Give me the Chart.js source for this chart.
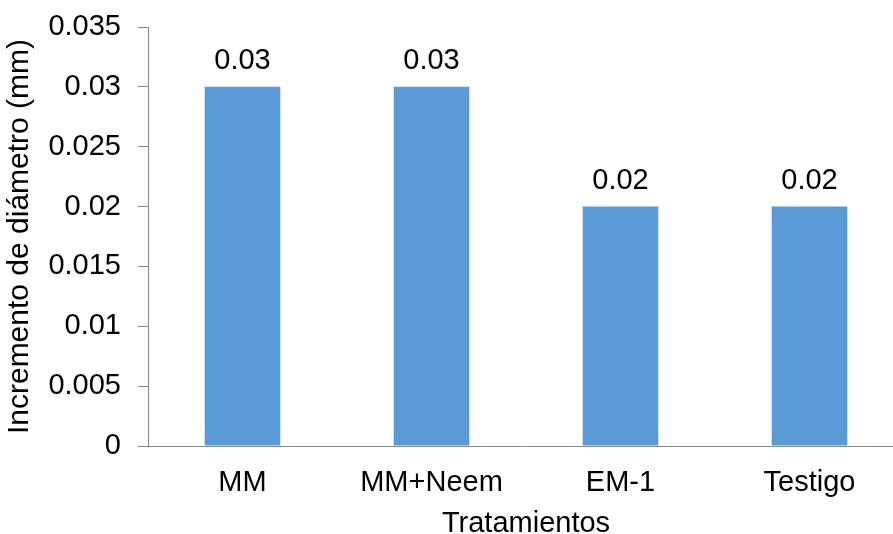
<!DOCTYPE html>
<html>
<head>
<meta charset="utf-8">
<script src="https://cdn.jsdelivr.net/npm/chart.js@4/dist/chart.umd.min.js"></script>
<style>
  html, body { margin: 0; padding: 0; background: #ffffff; overflow: hidden; }
  #wrap { width: 904px; height: 534px; position: relative; }
</style>
</head>
<body>
<div id="wrap"><canvas id="c"></canvas></div>
<script>
// Treatments and the diameter increment measured for each one
const categories = ['MM', 'MM+Neem', 'EM-1', 'Testigo'];
const incremento = [0.03, 0.03, 0.02, 0.02];
const valueLabels = ['0.03', '0.03', '0.02', '0.02'];
const yTickLabels = ['0', '0.005', '0.01', '0.015', '0.02', '0.025', '0.03', '0.035'];

const FONT = 'Liberation Sans, Arial, sans-serif';
const AXIS_GREY = '#898989';

// Writes each bar's value above it
const barValues = {
  id: 'barValues',
  afterDatasetsDraw(chart) {
    const ctx = chart.ctx;
    const meta = chart.getDatasetMeta(0);
    ctx.save();
    ctx.font = '29px ' + FONT;
    ctx.fillStyle = '#000000';
    ctx.textAlign = 'center';
    ctx.textBaseline = 'alphabetic';
    meta.data.forEach((bar, i) => {
      ctx.fillText(valueLabels[i], bar.x, bar.y - 18);
    });
    ctx.restore();
  }
};

new Chart(document.getElementById('c'), {
  type: 'bar',
  data: {
    labels: categories,
    datasets: [{
      data: incremento,
      backgroundColor: '#5B9BD5',
      borderWidth: 0,
      barPercentage: 0.4,
      categoryPercentage: 1.0
    }]
  },
  options: {
    responsive: true,
    maintainAspectRatio: false,
    animation: false,
    devicePixelRatio: 1,
    layout: { padding: { top: 27, right: 0, bottom: 0, left: 0 } },
    plugins: {
      legend: { display: false },
      tooltip: { enabled: false }
    },
    scales: {
      x: {
        grid: { display: false, drawTicks: false },
        border: { display: true, color: AXIS_GREY, width: 1 },
        ticks: { color: '#000000', padding: 20, font: { family: FONT, size: 29 } },
        title: {
          display: true,
          text: 'Tratamientos',
          color: '#000000',
          font: { family: FONT, size: 29, lineHeight: 1.0 },
          padding: { top: 0, bottom: -4 }
        },
        afterFit(scale) { scale.height = 88; }
      },
      y: {
        min: 0,
        max: 0.035,
        grid: { display: true, drawOnChartArea: false, drawTicks: true, tickLength: 10, color: AXIS_GREY },
        border: { display: true, color: AXIS_GREY, width: 1 },
        ticks: {
          stepSize: 0.005,
          padding: 17,
          color: '#000000',
          font: { family: FONT, size: 29 },
          callback: (value, index) => yTickLabels[index]
        },
        title: {
          display: true,
          text: 'Incremento de diámetro (mm)',
          color: '#000000',
          font: { family: FONT, size: 30, lineHeight: 1.2 },
          padding: { top: 2, bottom: 0 }
        },
        afterFit(scale) {
          scale.width = 148;
          scale.paddingTop = 0;
          scale.paddingBottom = 0;
        }
      }
    }
  },
  plugins: [barValues]
});
</script>
</body>
</html>
